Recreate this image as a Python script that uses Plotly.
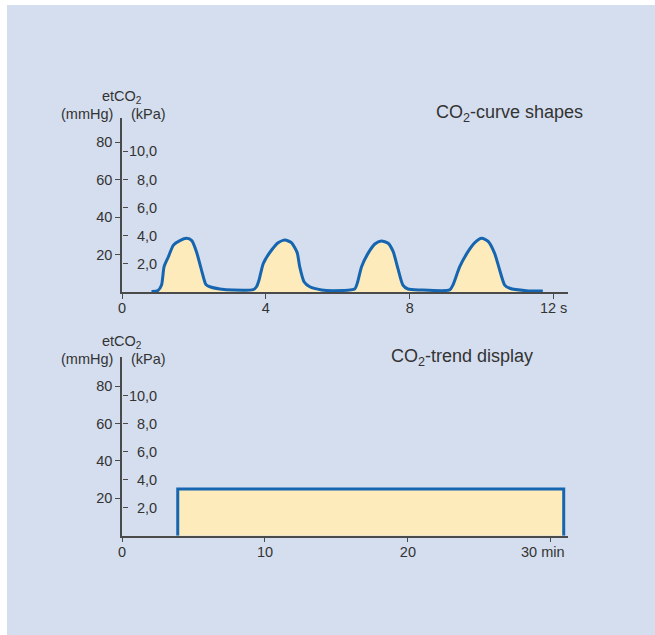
#!/usr/bin/env python3
"""Capnography: CO2 curve shapes and CO2 trend display."""
import plotly.graph_objects as go

W, H = 655, 635

# capnogram (time in s, etCO2 in mmHg)
curve_t = [0.82, 1.0, 1.10, 1.17, 1.29, 1.43, 1.61, 1.80, 1.94, 2.07, 2.21, 2.33, 2.44, 2.72, 3.09, 3.65,
           3.74, 3.81, 3.93, 4.16, 4.34, 4.53, 4.71, 4.87, 4.94, 5.06, 5.22, 5.55, 5.87, 6.47,
           6.54, 6.66, 6.84, 7.03, 7.21, 7.40, 7.54, 7.67, 7.81, 7.95, 8.28, 9.11,
           9.20, 9.39, 9.62, 9.81, 10.0, 10.18, 10.36, 10.5, 10.64, 10.78, 11.24, 11.70]
curve_co2 = [0.3, 0.8, 3.7, 13.5, 18.8, 25, 27.4, 28.6, 27.4, 21.5, 11.7, 4.1, 2.8, 1.6, 1.0, 1.3,
             2.8, 6.4, 15.3, 22.4, 26.3, 27.7, 26.3, 21, 13.5, 5.5, 2.8, 1.1, 0.7, 1.6,
             4.6, 13.5, 20.6, 25.6, 27.2, 26, 21.5, 12.6, 3.7, 1.6, 1.1, 1.1,
             3.7, 13.5, 21.5, 26.3, 28.6, 27, 20.6, 11.7, 3.7, 2.0, 0.7, 0.5]

# trend (time in min, etCO2 in mmHg)
trend_t = [3.9, 3.9, 30.9, 30.9]
trend_co2 = [0, 25, 25, 0]

mmhg_ticks = [20, 40, 60, 80]
kpa_ticks = [2, 4, 6, 8, 10]
kpa_labels = ["\u20072,0", "\u20074,0", "\u20076,0", "\u20078,0", "10,0"]
sec_ticks = [0, 4, 8, 12]
sec_labels = ["0", "4", "8", "12 s"]
min_ticks = [0, 10, 20, 30]
min_labels = ["0", "10", "20", "30 min\u00a0\u00a0\u00a0\u00a0"]

MMHG_PER_KPA = 7.5006
BG = "#D4DEEE"
BLUE = "#1565B0"
FILL = "#FEEBBB"
AXIS = "#4a4a4a"
TXT = "#333333"
FONT = "Liberation Sans, Arial, sans-serif"
FS = 14.5


def px(x):
    return x / W


def py(y):
    return 1 - y / H


fig = go.Figure()

fig.add_trace(go.Scatter(
    x=curve_t, y=curve_co2, mode="lines",
    line=dict(color=BLUE, width=3, shape="spline", smoothing=0.6),
    fill="tozeroy", fillcolor=FILL, xaxis="x", yaxis="y",
))
fig.add_trace(go.Scatter(
    x=trend_t, y=trend_co2, mode="lines",
    line=dict(color=BLUE, width=3),
    fill="toself", fillcolor=FILL, xaxis="x2", yaxis="y2",
))
# empty traces so the kPa axes get drawn
fig.add_trace(go.Scatter(x=[], y=[], xaxis="x", yaxis="y3"))
fig.add_trace(go.Scatter(x=[], y=[], xaxis="x2", yaxis="y4"))

top_rng = 92.8
bot_rng = 95.6

tick_font = dict(size=FS, color=TXT, family=FONT)
common_x = dict(showline=True, linecolor=AXIS, linewidth=1.5, ticks="outside", ticklen=5,
                tickcolor=AXIS, tickwidth=1.2, showgrid=False, zeroline=False,
                tickfont=tick_font, automargin=False, ticklabelstandoff=-3,
                domain=[px(122), px(568)])
common_y = dict(showline=True, linecolor=AXIS, linewidth=1.5, ticks="outside", ticklen=5,
                tickcolor=AXIS, tickwidth=1.2, showgrid=False, zeroline=False,
                tickfont=tick_font, automargin=False)
kpa_y = dict(side="right", anchor="free", position=px(122), showline=False, ticks="outside",
             ticklen=5, tickcolor=AXIS, tickwidth=1.2, showgrid=False, zeroline=False,
             tickfont=tick_font, automargin=False, ticklabelstandoff=-2,
             tickvals=kpa_ticks, ticktext=kpa_labels)

fig.update_layout(
    width=W, height=H,
    margin=dict(l=0, r=0, t=0, b=0),
    paper_bgcolor="white", plot_bgcolor="rgba(0,0,0,0)",
    showlegend=False,
    font=dict(family=FONT, color=TXT),
    xaxis=dict(common_x, anchor="y", range=[0, 12.4], tickvals=sec_ticks, ticktext=sec_labels),
    yaxis=dict(common_y, anchor="x", domain=[py(292), py(118)], range=[0, top_rng],
               tickvals=mmhg_ticks),
    xaxis2=dict(common_x, anchor="y2", range=[0, 31.2], tickvals=min_ticks, ticktext=min_labels),
    yaxis2=dict(common_y, anchor="x2", domain=[py(535.7), py(357)], range=[0, bot_rng],
                tickvals=mmhg_ticks),
    yaxis3=dict(kpa_y, overlaying="y", range=[0, top_rng / MMHG_PER_KPA]),
    yaxis4=dict(kpa_y, overlaying="y2", range=[0, bot_rng / MMHG_PER_KPA]),
)

# light blue panel with a thin white edge on the left and top
fig.add_shape(type="rect", xref="paper", yref="paper", x0=px(7), x1=1, y0=0, y1=py(5),
              fillcolor=BG, line=dict(width=0), layer="below")

for top in (97, 342):
    fig.add_annotation(text="etCO<sub>2</sub>", xref="paper", yref="paper", xanchor="center",
                       yanchor="middle", x=px(122), y=py(top), showarrow=False,
                       font=dict(size=FS, color=TXT))
    fig.add_annotation(text="(mmHg)", xref="paper", yref="paper", xanchor="center",
                       yanchor="middle", x=px(87), y=py(top + 17), showarrow=False,
                       font=dict(size=FS, color=TXT))
    fig.add_annotation(text="(kPa)", xref="paper", yref="paper", xanchor="center",
                       yanchor="middle", x=px(148), y=py(top + 17), showarrow=False,
                       font=dict(size=FS, color=TXT))

fig.add_annotation(text="CO<sub>2</sub>-curve shapes", xref="paper", yref="paper",
                   x=px(585), y=py(113), xanchor="right", yanchor="middle", showarrow=False,
                   font=dict(size=18, color=TXT))
fig.add_annotation(text="CO<sub>2</sub>-trend display", xref="paper", yref="paper",
                   x=px(535), y=py(357), xanchor="right", yanchor="middle", showarrow=False,
                   font=dict(size=18, color=TXT))

# drop the default page margin so the figure fills the window
fig.write_html("out.html", config={"displayModeBar": False},
               post_script="document.body.style.margin='0';")
